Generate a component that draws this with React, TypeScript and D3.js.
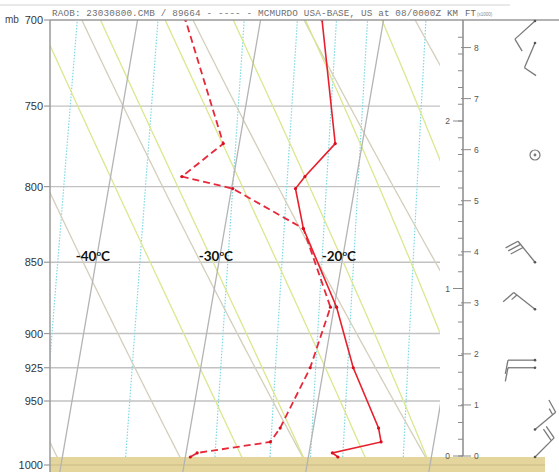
import React from 'react';
import * as d3 from 'd3';

const W = 559, H = 472;

// ---- data ----
const pressureLevels = [700, 750, 800, 850, 900, 925, 950, 1000];
const isotherms = [-50, -40, -30, -20, -10, 0];
const isothermLabels = [-40, -30, -20];
const dryAdiabats = [-40, -30, -20, -10, 0, 10, 20];
const moistAdiabats = [-25, -20, -15, -10, -5, 0, 5];
const mixingRatios = [0.1, 0.2, 0.4, 0.6, 0.8, 1, 1.5];

const obsP = [993.6, 990.4, 981.7, 970.8, 925, 881.2, 827.4, 801.3, 793.6, 772.9, 700];
const tempC = [-17.6, -18.1, -14.3, -14.7, -17.6, -19.8, -23.6, -24.8, -24.2, -22.2, -25.0];
const dewC = [-29.6, -29.1, -23.3, -22.7, -21.1, -20.3, -23.6, -29.9, -34.2, -31.3, -36.1];

const kmTicks = [0, 1, 2];
const ftTicks = [0, 1, 2, 3, 4, 5, 6, 7, 8];

const windP = [700.6, 713, 780, 850, 882.6, 919.4, 925, 972, 993.6];
const windDir = [228, 203, 0, 321, 308, 270, 270, 50, 45];
const windKt = [10, 10, 0, 30, 15, 10, 10, 15, 20];

const headerText = 'RAOB:   23030800.CMB / 89664 - ---- - MCMURDO USA-BASE, US at 08/0000Z';

// ---- scales ----
const yScale = d3.scaleLog().domain([700, 1000]).range([20, 465]);
const xT = d3.scaleLinear().domain([-30, -20]).range([184, 307]);
const SKEW = 0.172;
const sx = (T: number, p: number) => xT(T) + SKEW * (465 - yScale(p));
const hScale = d3.scaleLinear().domain([0, 2.5]).range([456, 456 - 2.5 * 167.5]);

const pSamples = d3.range(1010, 695, -2);
const line = d3.line<[number, number]>().x(d => d[0]).y(d => d[1]);

function dryPath(theta: number) {
  const pts = pSamples.map(p => {
    const T = (theta + 273.15) * Math.pow(p / 1000, 0.2857) - 273.15;
    return [sx(T, p), yScale(p)] as [number, number];
  });
  return line(pts) || '';
}

function esat(Tc: number) {
  return 6.112 * Math.exp((17.67 * Tc) / (Tc + 243.5));
}

function moistPath(thw: number) {
  const Rd = 287.04, cp = 1005.7, L = 2.501e6, eps = 0.622;
  const lapse = (p: number, T: number) => {
    const es = esat(T - 273.15);
    const rs = (eps * es) / (p - es);
    return ((Rd * T + L * rs) / p) / (cp + (L * L * rs * eps) / (Rd * T * T));
  };
  const pts: [number, number][] = [];
  let T = thw + 273.15;
  let p = 1000;
  const down: [number, number][] = [];
  while (p < 1010) {
    const dp = 2;
    const k1 = lapse(p, T);
    const k2 = lapse(p + dp, T + k1 * dp);
    T += 0.5 * (k1 + k2) * dp;
    p += dp;
    down.push([sx(T - 273.15, p), yScale(p)]);
  }
  down.reverse().forEach(d => pts.push(d));
  T = thw + 273.15; p = 1000;
  pts.push([sx(T - 273.15, p), yScale(p)]);
  while (p > 696) {
    const dp = -2;
    const k1 = lapse(p, T);
    const k2 = lapse(p + dp, T + k1 * dp);
    T += 0.5 * (k1 + k2) * dp;
    p += dp;
    pts.push([sx(T - 273.15, p), yScale(p)]);
  }
  return line(pts) || '';
}

function mixPath(w: number) {
  const pts = d3.range(993.6, 699, -3).concat([700]).map(p => {
    const e = (w * p) / (622 + w);
    const a = Math.log(e / 6.112);
    const Td = (243.5 * a) / (17.67 - a);
    return [sx(Td, p), yScale(p)] as [number, number];
  });
  return line(pts) || '';
}

function isoPath(T: number) {
  return line([[sx(T, 1010), yScale(1010)], [sx(T, 695), yScale(695)]]) || '';
}

function Barb({ p, dir, kt }: { p: number; dir: number; kt: number }) {
  const x0 = 535, y0 = yScale(p);
  const col = '#7a7a7a';
  if (kt === 0) {
    return (
      <g>
        <circle cx={x0} cy={y0} r={5} fill="none" stroke={col} strokeWidth={1.2} />
        <circle cx={x0} cy={y0} r={1.4} fill={col} />
      </g>
    );
  }
  const rad = (dir * Math.PI) / 180;
  const ux = Math.sin(rad), uy = -Math.cos(rad);
  const Ls = 27;
  const ex = x0 + ux * Ls, ey = y0 + uy * Ls;
  const ang = Math.atan2(uy, ux) - (79 * Math.PI) / 180;
  const fx = Math.cos(ang), fy = Math.sin(ang);
  const els: React.ReactNode[] = [];
  els.push(<line key="s" x1={x0} y1={y0} x2={ex} y2={ey} />);
  let rem = kt;
  let off = 0;
  let i = 0;
  while (rem >= 10) {
    const bx = ex - ux * off, by = ey - uy * off;
    els.push(<line key={'f' + i++} x1={bx} y1={by} x2={bx + fx * 14} y2={by + fy * 14} />);
    rem -= 10;
    off += 4;
  }
  if (rem >= 5) {
    if (off === 0) off = 4;
    const bx = ex - ux * off, by = ey - uy * off;
    els.push(<line key={'h' + i++} x1={bx} y1={by} x2={bx + fx * 7} y2={by + fy * 7} />);
  }
  return (
    <g stroke={col} strokeWidth={1.3} fill="none">
      {els}
      <circle cx={x0} cy={y0} r={1.3} fill="#555" stroke="none" />
    </g>
  );
}

export default function App() {
  const surfaceY = yScale(obsP[0]);
  const tempPts = obsP.map((p, i) => [sx(tempC[i], p), yScale(p)] as [number, number]);
  const dewPts = obsP.map((p, i) => [sx(dewC[i], p), yScale(p)] as [number, number]);
  const minorKm = d3.range(0, 2.55, 0.1);
  return (
    <svg
      width={W}
      height={H}
      viewBox={`0 0 ${W} ${H}`}
      style={{ position: 'absolute', left: 0, top: 0, background: '#fff' }}
      fontFamily="'Liberation Sans', Arial, sans-serif"
    >
      <defs>
        <clipPath id="plot">
          <rect x={50} y={20} width={390} height={H - 20} />
        </clipPath>
      </defs>
      <rect x={0} y={0} width={W} height={H} fill="#fff" />

      {/* header */}
      <line x1={0} x2={510} y1={5} y2={5} stroke="#e2e2e2" strokeWidth={1.5} />
      <text x={52} y={16} fontFamily="'Liberation Mono', 'DejaVu Sans Mono', monospace" fontSize={9.3}
        fill="#707070" textLength={389} lengthAdjust="spacing">{headerText}</text>
      <text x={447} y={16} fontFamily="'Liberation Mono', monospace" fontSize={9} fill="#666">KM</text>
      <text x={465} y={16} fontFamily="'Liberation Mono', monospace" fontSize={9} fill="#666">FT</text>
      <text x={477} y={16} fontSize={4.5} fill="#888">(x1000)</text>

      <g clipPath="url(#plot)">
        {/* grid */}
        {pressureLevels.slice(1).map(p => (
          <line key={p} x1={50} x2={440} y1={yScale(p)} y2={yScale(p)} stroke="#c2c2c2" strokeWidth={1.4} />
        ))}
        {mixingRatios.map(w => (
          <path key={w} d={mixPath(w)} fill="none" stroke="#7fd9e3" strokeWidth={1.2} strokeDasharray="1.5,1.5" />
        ))}
        {dryAdiabats.map(t => (
          <path key={t} d={dryPath(t)} fill="none" stroke="#d4cfbb" strokeWidth={1.3} />
        ))}
        {moistAdiabats.map(t => (
          <path key={t} d={moistPath(t)} fill="none" stroke="#dbe78e" strokeWidth={1.3} />
        ))}
      </g>

      {/* ground */}
      <rect x={50} y={surfaceY} width={495} height={H - surfaceY} fill="#e3d59b" />
      <line x1={50} x2={545} y1={yScale(1000)} y2={yScale(1000)} stroke="#c9bc86" strokeWidth={1.2} />

      <g clipPath="url(#plot)">
        {isotherms.map(t => (
          <path key={t} d={isoPath(t)} fill="none" stroke="#b4b4b4" strokeWidth={1.3} />
        ))}
        <path d={line(dewPts) || ''} fill="none" stroke="#e8283a" strokeWidth={1.8} strokeDasharray="7,4" />
        <path d={line(tempPts) || ''} fill="none" stroke="#e8202d" strokeWidth={1.6} />
        {tempPts.map((d, i) => <circle key={'t' + i} cx={d[0]} cy={d[1]} r={1.6} fill="#d8101d" />)}
        {dewPts.map((d, i) => <circle key={'d' + i} cx={d[0]} cy={d[1]} r={1.6} fill="#d8101d" />)}
      </g>

      {/* frame */}
      <line x1={50} x2={W} y1={20} y2={20} stroke="#9a9a9a" strokeWidth={1.3} />
      <line x1={50} x2={50} y1={20} y2={H} stroke="#9a9a9a" strokeWidth={1.5} />

      {/* pressure axis */}
      <text x={5} y={23} fontSize={10} fill="#444">mb</text>
      {pressureLevels.map(p => (
        <g key={p}>
          <line x1={44} x2={50} y1={yScale(p)} y2={yScale(p)} stroke="#9a9a9a" strokeWidth={1.2} />
          <text x={43} y={yScale(p) + 4} fontSize={11} fill="#333" textAnchor="end">{p}</text>
        </g>
      ))}

      {/* isotherm labels */}
      {isothermLabels.map(t => (
        <text key={t} x={sx(t, 850) - 3} y={261} fontFamily="Lato, 'Open Sans', sans-serif" fontWeight="bold"
          fontSize={13.5} fill="#111" textAnchor="middle">
          {t}<tspan fontSize={8} dy={-5}>o</tspan><tspan dy={5}>C</tspan>
        </text>
      ))}

      {/* height axis */}
      <line x1={463} x2={463} y1={20} y2={hScale(0)} stroke="#8a8a8a" strokeWidth={1.5} />
      {minorKm.map((k, i) => (
        <line key={i} x1={458} x2={463} y1={hScale(k)} y2={hScale(k)} stroke="#8a8a8a" strokeWidth={1} />
      ))}
      {kmTicks.map(k => (
        <g key={k}>
          <line x1={453} x2={463} y1={hScale(k)} y2={hScale(k)} stroke="#8a8a8a" strokeWidth={1} />
          <text x={450} y={hScale(k) + 3} fontSize={8.5} fill="#555" textAnchor="end">{k}</text>
        </g>
      ))}
      {ftTicks.map(f => (
        <g key={f}>
          <line x1={461} x2={471} y1={hScale(f * 0.3048)} y2={hScale(f * 0.3048)} stroke="#8a8a8a" strokeWidth={1} />
          <text x={474} y={hScale(f * 0.3048) + 3} fontSize={8.5} fill="#555">{f}</text>
        </g>
      ))}

      {/* wind barbs */}
      {windP.map((p, i) => (
        <Barb key={i} p={p} dir={windDir[i]} kt={windKt[i]} />
      ))}
    </svg>
  );
}
